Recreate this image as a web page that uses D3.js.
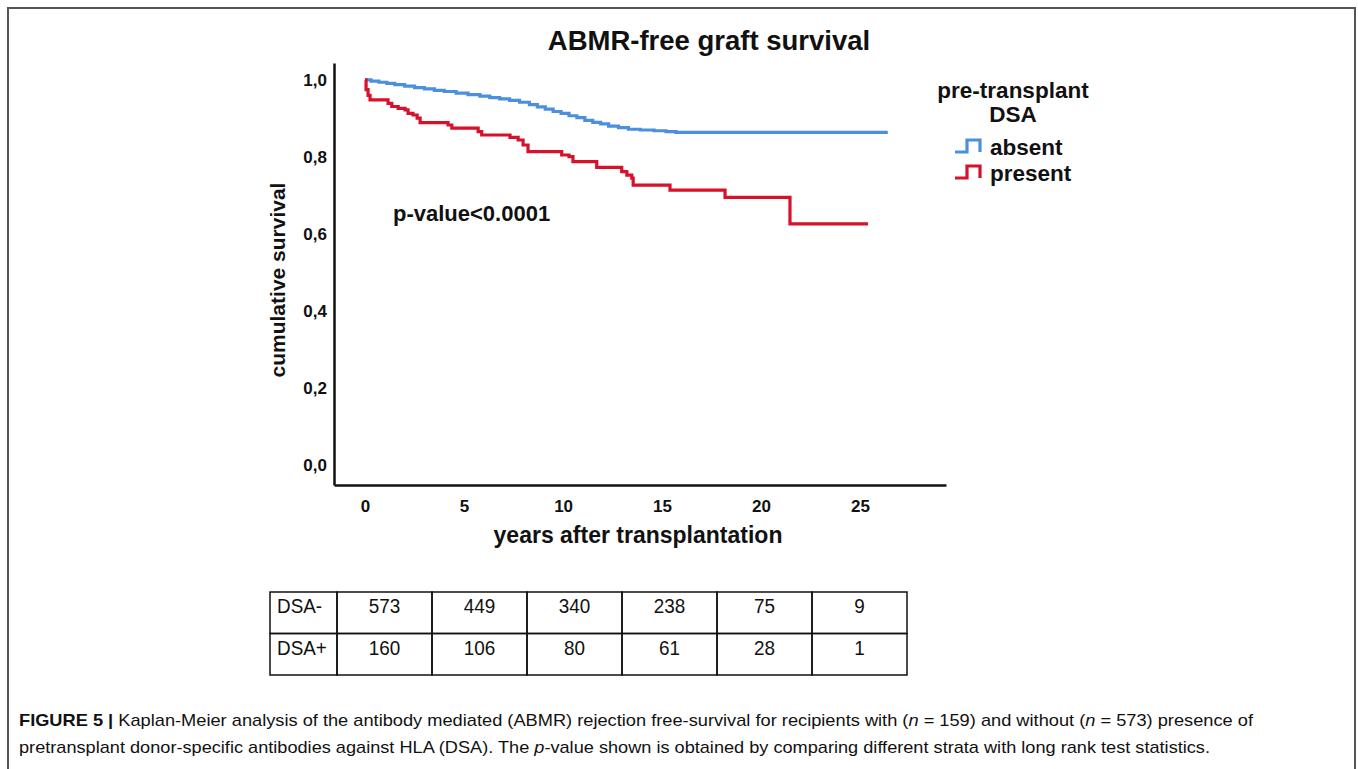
<!DOCTYPE html>
<html>
<head>
<meta charset="utf-8">
<script src="https://cdn.jsdelivr.net/npm/d3@7"></script>
<style>
  html, body { margin: 0; padding: 0; background: #fff; }
  svg { display: block; }
  text { font-family: "Liberation Sans", Arial, sans-serif; fill: #111; }
</style>
</head>
<body>
<svg id="fig" width="1358" height="769"></svg>
<script>
// Kaplan-Meier step points: time (years) where the estimate drops, and the new survival value
const absentTimes = [0, 0.3, 0.7, 1.1, 1.5, 2.0, 2.5, 3.0, 3.5, 4.0, 4.6, 5.2, 5.8, 6.3, 6.8, 7.3, 7.8, 8.3, 8.7, 9.1, 9.5, 9.9, 10.3, 10.7, 11.1, 11.5, 11.9, 12.3, 12.8, 13.3, 13.9, 14.6, 15.2, 15.7];
const absentSurv  = [1.000, 0.997, 0.994, 0.991, 0.988, 0.984, 0.980, 0.977, 0.973, 0.970, 0.966, 0.962, 0.958, 0.954, 0.951, 0.947, 0.942, 0.936, 0.930, 0.924, 0.918, 0.913, 0.907, 0.902, 0.895, 0.890, 0.886, 0.880, 0.876, 0.872, 0.870, 0.868, 0.866, 0.864];
const absentEnd = 26.4;

const presentTimes = [0, 0.05, 0.15, 0.25, 1.16, 1.35, 1.67, 2.02, 2.17, 2.42, 2.63, 2.78, 4.19, 4.38, 5.71, 5.89, 7.32, 7.73, 7.98, 8.23, 9.93, 10.3, 10.5, 11.7, 12.96, 13.22, 13.47, 13.54, 15.4, 18.18, 21.46];
const presentSurv  = [1.000, 0.975, 0.960, 0.948, 0.939, 0.931, 0.926, 0.922, 0.913, 0.909, 0.901, 0.889, 0.883, 0.875, 0.866, 0.857, 0.851, 0.844, 0.831, 0.814, 0.805, 0.801, 0.788, 0.773, 0.762, 0.753, 0.745, 0.727, 0.714, 0.695, 0.626];
const presentEnd = 25.4;

// axis ticks
const xTicks = [0, 5, 10, 15, 20, 25];
const yTicks = [0, 0.2, 0.4, 0.6, 0.8, 1.0];

// numbers at risk
const riskTimes = [0, 5, 10, 15, 20, 25];
const riskAbsent = [573, 449, 340, 238, 75, 9];
const riskPresent = [160, 106, 80, 61, 28, 1];
const riskLabels = ["DSA-", "DSA+"];

const groupNames = ["absent", "present"];
const groupColors = ["#4b8fde", "#d7102b"];

const svg = d3.select("#fig");

// outer figure frame
svg.append("path")
  .attr("d", "M8,780V8H1355V780")
  .attr("fill", "none").attr("stroke", "#555").attr("stroke-width", 2);

const x = d3.scaleLinear().domain([-1.57, 29.34]).range([334, 946]);
const y = d3.scaleLinear().domain([-0.052, 1.044]).range([485, 63]);

// x axis
const xAxis = svg.append("g").attr("transform", "translate(0,485)")
  .call(d3.axisBottom(x).tickValues(xTicks).tickSize(0).tickPadding(15).tickFormat(d3.format("d")));
xAxis.select(".domain").attr("stroke", "#111").attr("stroke-width", 2.5);
xAxis.selectAll("text").style("font-family", "Liberation Sans, Arial, sans-serif")
  .style("font-size", "17px").style("font-weight", "bold").attr("fill", "#111");

// y axis
const commaFmt = d => d3.format(".1f")(d).replace(".", ",");
const yAxis = svg.append("g").attr("transform", "translate(334,0)")
  .call(d3.axisLeft(y).tickValues(yTicks).tickSize(0).tickPadding(7).tickFormat(commaFmt));
yAxis.select(".domain").attr("stroke", "#111").attr("stroke-width", 2.5);
yAxis.selectAll("text").style("font-family", "Liberation Sans, Arial, sans-serif")
  .style("font-size", "17px").style("font-weight", "bold").attr("fill", "#111");

// survival curves
function stepData(times, surv, end) {
  const pts = times.map((t, i) => [t, surv[i]]);
  pts.push([end, surv[surv.length - 1]]);
  return pts;
}
const line = d3.line().x(d => x(d[0])).y(d => y(d[1])).curve(d3.curveStepAfter);
const curves = [
  stepData(absentTimes, absentSurv, absentEnd),
  stepData(presentTimes, presentSurv, presentEnd)
];
svg.append("g").selectAll("path").data(curves).join("path")
  .attr("d", line)
  .attr("fill", "none")
  .attr("stroke", (d, i) => groupColors[i])
  .attr("stroke-width", 3.2)
  .attr("stroke-linejoin", "miter");

// titles
svg.append("text").attr("x", 709).attr("y", 50).attr("text-anchor", "middle")
  .style("font-size", "27.5px").style("font-weight", "bold").text("ABMR-free graft survival");
svg.append("text").attr("transform", "translate(285,280) rotate(-90)").attr("text-anchor", "middle")
  .style("font-size", "21px").style("font-weight", "bold").text("cumulative survival");
svg.append("text").attr("x", 638).attr("y", 543).attr("text-anchor", "middle")
  .style("font-size", "23px").style("font-weight", "bold").text("years after transplantation");
svg.append("text").attr("x", 393).attr("y", 221)
  .style("font-size", "22px").style("font-weight", "bold").text("p-value<0.0001");

// legend
svg.append("text").attr("x", 1013).attr("y", 98).attr("text-anchor", "middle")
  .style("font-size", "22.5px").style("font-weight", "bold").text("pre-transplant");
svg.append("text").attr("x", 1013).attr("y", 122).attr("text-anchor", "middle")
  .style("font-size", "22.5px").style("font-weight", "bold").text("DSA");
const legend = svg.append("g").selectAll("g").data(groupNames).join("g")
  .attr("transform", (d, i) => `translate(955,${140 + i * 26})`);
legend.append("path")
  .attr("d", "M0,12H12V0H25V12")
  .attr("fill", "none").attr("stroke", (d, i) => groupColors[i]).attr("stroke-width", 3.2);
legend.append("text").attr("x", 35).attr("y", 15)
  .style("font-size", "22.5px").style("font-weight", "bold").text(d => d);

// numbers-at-risk table
const tableLeft = 270, firstCol = 67, colW = 95, rowH = 41.5, tableTop = 592;
const table = svg.append("g");
const rows = [riskAbsent, riskPresent];
rows.forEach((vals, r) => {
  const ty = tableTop + r * rowH;
  table.append("rect").attr("x", tableLeft).attr("y", ty).attr("width", firstCol).attr("height", rowH)
    .attr("fill", "none").attr("stroke", "#111").attr("stroke-width", 1.5);
  table.append("text").attr("transform", `translate(${tableLeft + 7},${ty + 21}) scale(0.9,1)`)
    .style("font-size", "21px").text(riskLabels[r]);
  vals.forEach((v, c) => {
    const cx = tableLeft + firstCol + c * colW;
    table.append("rect").attr("x", cx).attr("y", ty).attr("width", colW).attr("height", rowH)
      .attr("fill", "none").attr("stroke", "#111").attr("stroke-width", 1.5);
    table.append("text").attr("transform", `translate(${cx + colW / 2},${ty + 21}) scale(0.9,1)`)
      .attr("text-anchor", "middle")
      .style("font-size", "21px").text(v);
  });
});

// caption
const cap = svg.append("g").style("font-family", "'Liberation Sans Narrow', 'Liberation Sans', Arial, sans-serif")
  .style("font-size", "17px");
const l1 = cap.append("text").attr("x", 19).attr("y", 726);
l1.append("tspan").style("font-weight", "bold").text("FIGURE 5 | ");
l1.append("tspan").text("Kaplan-Meier analysis of the antibody mediated (ABMR) rejection free-survival for recipients with (");
l1.append("tspan").style("font-style", "italic").text("n");
l1.append("tspan").text(" = 159) and without (");
l1.append("tspan").style("font-style", "italic").text("n");
l1.append("tspan").text(" = 573) presence of");
const l2 = cap.append("text").attr("x", 19).attr("y", 753);
l2.append("tspan").text("pretransplant donor-specific antibodies against HLA (DSA). The ");
l2.append("tspan").style("font-style", "italic").text("p");
l2.append("tspan").text("-value shown is obtained by comparing different strata with long rank test statistics.");
l1.attr("textLength", 1234).attr("lengthAdjust", "spacingAndGlyphs");
l2.attr("textLength", 1191).attr("lengthAdjust", "spacingAndGlyphs");
</script>
</body>
</html>
